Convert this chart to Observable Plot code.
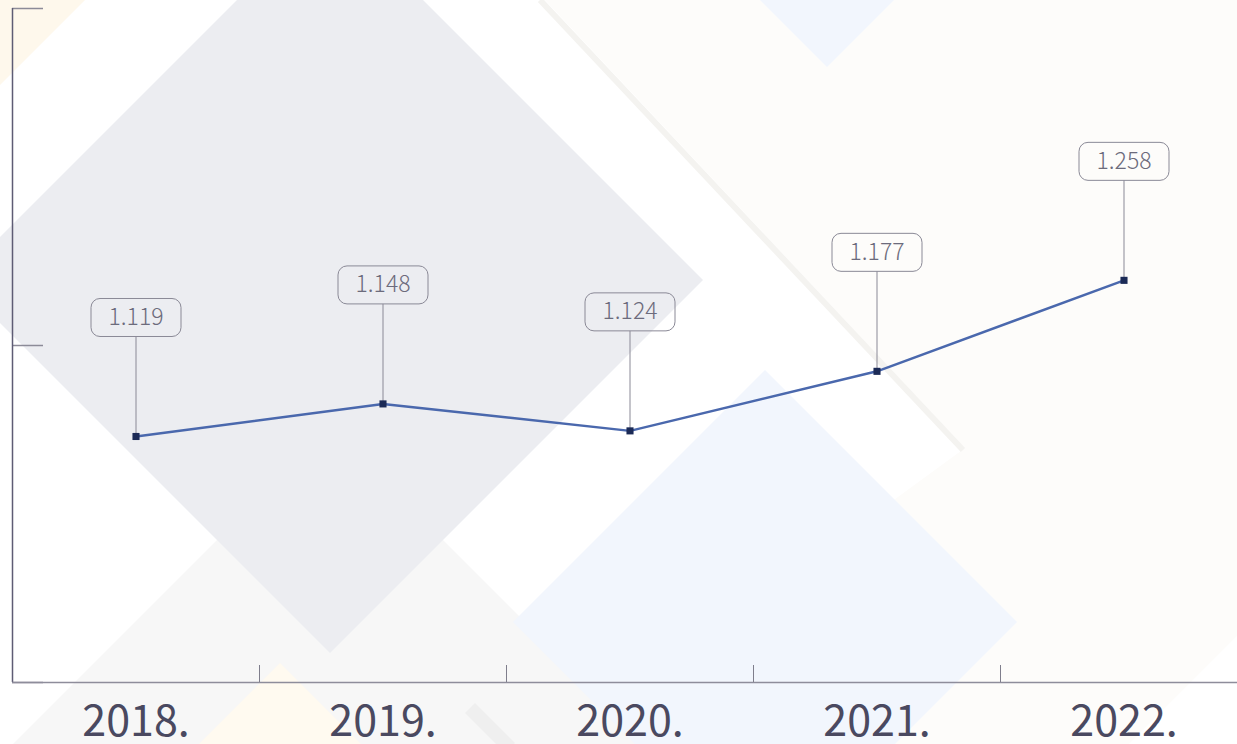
<!DOCTYPE html>
<html>
<head>
<meta charset="utf-8">
<script src="https://cdn.jsdelivr.net/npm/d3@7"></script>
<script src="https://cdn.jsdelivr.net/npm/@observablehq/plot@0.6"></script>
<style>
  html, body { margin: 0; padding: 0; background: #fdfcfa; }
  #wrap { position: relative; width: 1237px; height: 744px; overflow: hidden; }
  #bg { position: absolute; left: 0; top: 0; }
  #chart { position: absolute; left: 0; top: 0; }
</style>
</head>
<body>
<div id="wrap">
  <svg id="bg" width="1237" height="744" xmlns="http://www.w3.org/2000/svg">
    <rect x="0" y="0" width="1237" height="744" fill="#fdfcfa"/>
    <polygon points="0,0 545,0 965,448 560,744 0,744" fill="#ffffff"/>
    <polygon points="1237,636 1237,744 1129,744" fill="#ffffff"/>
    <polygon points="0,0 85,0 0,85" fill="#fef8ec"/>
    <polygon points="330,427 660,757 330,1087 0,757" fill="#f7f7f7"/>
    <polygon points="280,663 400,783 280,903 160,783" fill="#fffaf0"/>
    <polygon points="330,-93 703,280 330,653 -43,280" fill="#ecedf1"/>
    <polygon points="765,370 1017,622 765,874 513,622" fill="#f2f6fd"/>
    <polygon points="827,-233 977,-83 827,67 677,-83" fill="#f2f6fd"/>
    <line x1="540" y1="0" x2="963" y2="450" stroke="#f4f3f0" stroke-width="6"/>
    <line x1="470" y1="708" x2="510" y2="748" stroke="#efefef" stroke-width="14"/>
  </svg>
  <div id="chart"></div>
</div>
<script>
// ---- data ----
const years = [2018, 2019, 2020, 2021, 2022];
const values = [1.119, 1.148, 1.124, 1.177, 1.258];
const xLabels = ["2018.", "2019.", "2020.", "2021.", "2022."];
const yTicks = [0.9, 1.2, 1.5];
const bandEdges = [2018.5, 2019.5, 2020.5, 2021.5];

const data = years.map((year, i) => ({year, value: values[i], label: xLabels[i]}));
const fmt = d3.format(".3f");

// callout box + connector drawn as a custom symbol relative to the point
const callout = {
  draw(context) {
    const w = 90, h = 38, r = 9, cy = -119;
    const x0 = -w / 2, x1 = w / 2, y0 = cy - h / 2, y1 = cy + h / 2;
    context.moveTo(x0 + r, y0);
    context.arcTo(x1, y0, x1, y1, r);
    context.arcTo(x1, y1, x0, y1, r);
    context.arcTo(x0, y1, x0, y0, r);
    context.arcTo(x0, y0, x1, y0, r);
    context.closePath();
    context.moveTo(0, y1);
    context.lineTo(0, 0);
  }
};

const chart = Plot.plot({
  width: 1237,
  height: 744,
  marginTop: 8,
  marginBottom: 62,
  marginLeft: 12,
  marginRight: 0,
  style: {background: "transparent", fontFamily: "'Noto Sans CJK SC', 'Noto Sans', sans-serif"},
  x: {domain: [2017.5, 2022.5], range: [12, 1247], label: null},
  y: {domain: [0.9, 1.5], label: null},
  marks: [
    // y axis ticks (inward)
    Plot.axisY(yTicks, {tickSize: -31, tickFormat: () => "", label: null, stroke: "#8c8b98", strokeWidth: 1.5}),
    // y axis line
    Plot.ruleX([2017.5], {stroke: "#5e5c74", strokeWidth: 1.5}),
    // x axis line
    Plot.ruleY([0.9], {stroke: "#8e8d9b", strokeWidth: 1.5}),
    // band boundary ticks
    Plot.axisX(bandEdges, {tickSize: -17, tickFormat: () => "", label: null, stroke: "#7f7e8c", strokeWidth: 1}),
    // year labels
    Plot.axisX(years, {
      tickSize: 0,
      tickPadding: 23,
      tickFormat: (d) => xLabels[years.indexOf(d)],
      fontSize: 43,
      fill: "#4a4960",
      label: null
    }),
    // callouts
    Plot.dot(data, {x: "year", y: "value", symbol: callout, r: 5, stroke: "#8a8996", strokeWidth: 1, fill: "none"}),
    Plot.text(data, {x: "year", y: "value", text: d => fmt(d.value), dy: -119, fontSize: 23, fontWeight: 300, fill: "#6c6b7c"}),
    // line
    Plot.line(data, {x: "year", y: "value", stroke: "#4a68ad", strokeWidth: 2.5}),
    Plot.dot(data, {x: "year", y: "value", symbol: "square", r: 4, fill: "#1b2a56", stroke: "none"})
  ]
});
document.getElementById("chart").appendChild(chart);
</script>
</body>
</html>
